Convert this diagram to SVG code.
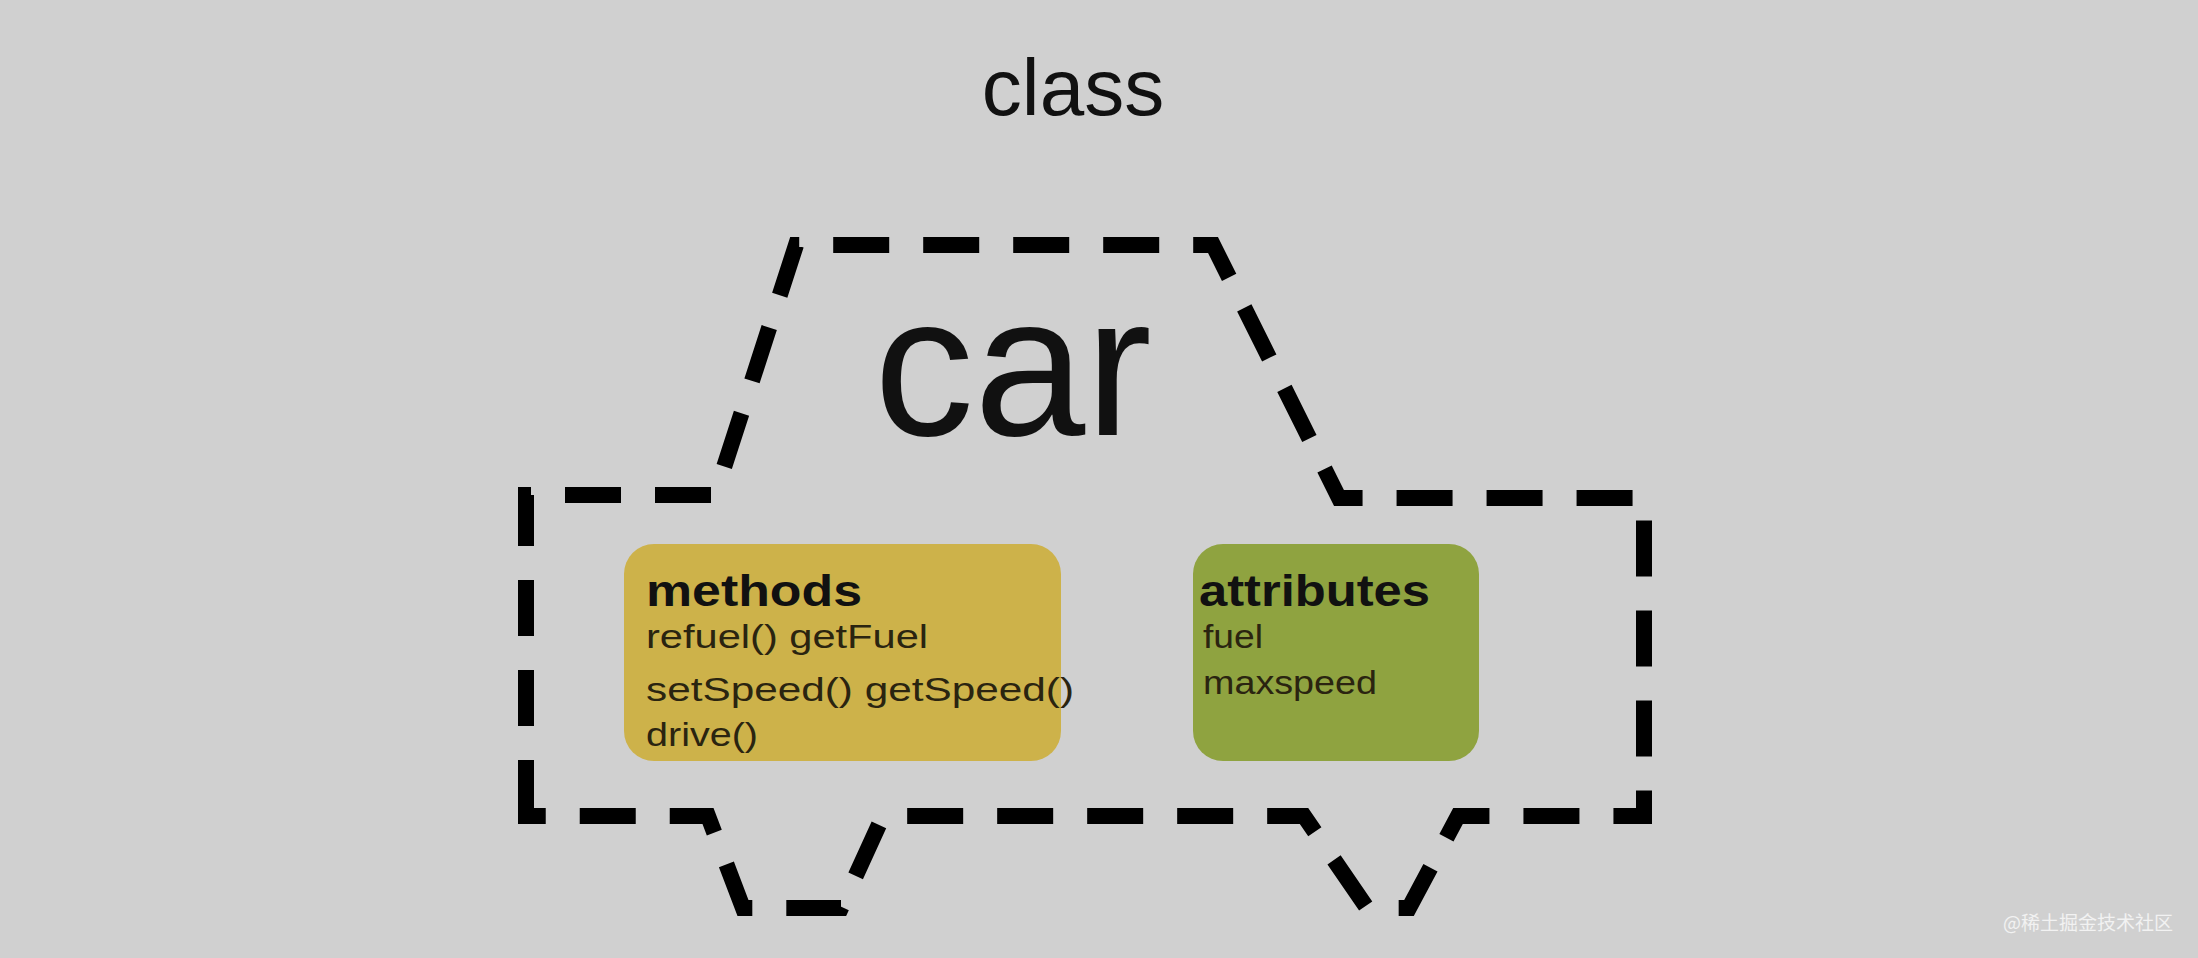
<svg xmlns="http://www.w3.org/2000/svg" width="2198" height="958" viewBox="0 0 2198 958">
<style>
.t{font-family:"Liberation Sans",Arial,sans-serif;fill:#111}
.b{font-weight:bold}
.s{font-size:34px;fill:#2a2410}
</style>
<rect width="2198" height="958" fill="#d0d0d0"/>
<text class="t" x="1073" y="115" font-size="80" text-anchor="middle">class</text>
<g id="connectors">
<path d="M526 816 L526 495 L715 495 L796 245 L1213 245 L1339 498 L1644 498 L1644 816 L1458 816 L1409 908 L1367 908 L1304 816 L883 816 L841 908 L743 908 L708 816 Z" fill="none" stroke="#000" stroke-width="16" stroke-dasharray="56 34"/>
</g>
<g id="car"><text class="t" x="1013" y="435" font-size="200" text-anchor="middle">car</text></g>
<g id="methods">
<rect x="624" y="544" width="437" height="217" rx="30" fill="#cdb24a"/>
<text class="t b" x="646" y="606" font-size="44" textLength="216" lengthAdjust="spacingAndGlyphs">methods</text>
<text class="t s" x="646" y="648" textLength="282" lengthAdjust="spacingAndGlyphs">refuel() getFuel</text>
<text class="t s" x="646" y="701" textLength="428" lengthAdjust="spacingAndGlyphs">setSpeed() getSpeed()</text>
<text class="t s" x="646" y="746" textLength="112" lengthAdjust="spacingAndGlyphs">drive()</text>
</g>
<g id="attributes">
<rect x="1193" y="544" width="286" height="217" rx="30" fill="#8fa340"/>
<text class="t b" x="1199" y="606" font-size="44" textLength="231" lengthAdjust="spacingAndGlyphs">attributes</text>
<text class="t s" x="1203" y="648" textLength="60" lengthAdjust="spacingAndGlyphs" fill="#1f2a0a">fuel</text>
<text class="t s" x="1203" y="694" textLength="174" lengthAdjust="spacingAndGlyphs" fill="#1f2a0a">maxspeed</text>
</g>
<text x="2173" y="930" font-family="'Noto Sans CJK SC',sans-serif" font-size="19" fill="#f2f2f2" text-anchor="end">@稀土掘金技术社区</text>
</svg>
